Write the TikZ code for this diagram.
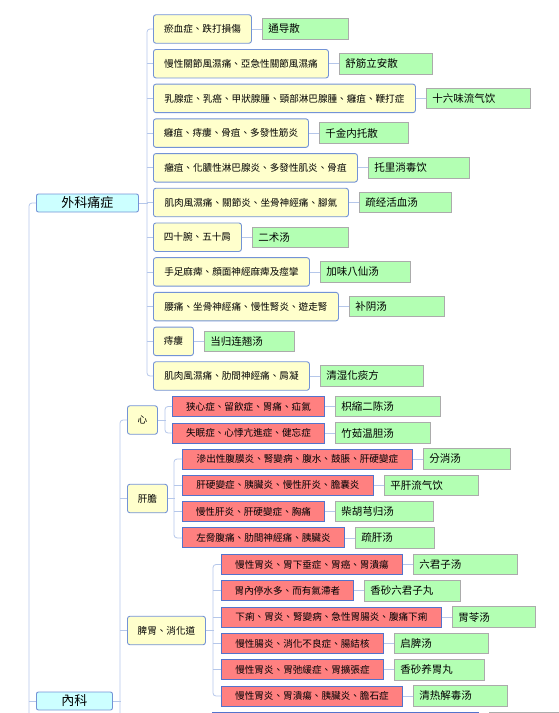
\documentclass[tikz,border=0pt]{standalone}
\usepackage{fontspec}
\setmainfont{Noto Sans CJK TC}
\usetikzlibrary{positioning}

\definecolor{catfill}{HTML}{CCFFFF}
\definecolor{grpfill}{HTML}{FFFFCC}
\definecolor{disfill}{HTML}{FF8080}
\definecolor{rxfill}{HTML}{B3FFB3}
\definecolor{boxline}{HTML}{7393D6}
\definecolor{disline}{HTML}{5473CC}
\definecolor{rxline}{HTML}{ABABAB}
\definecolor{linkcol}{HTML}{B5C7EA}

\begin{document}
\begin{tikzpicture}[x=1pt, y=-1pt,
    cat/.style={draw=boxline, fill=catfill, line width=0.9pt, rounded corners=2pt,
        minimum height=18pt, inner sep=0pt, font=\fontsize{13}{15}\selectfont},
    sym/.style={draw=boxline, fill=grpfill, line width=0.9pt, rounded corners=2.5pt,
        minimum width=#1, minimum height=28.5pt, inner sep=0pt, font=\fontsize{9.6}{11}\selectfont},
    dis/.style={draw=disline, fill=disfill, line width=0.9pt,
        minimum width=#1, minimum height=20pt, inner sep=0pt, font=\fontsize{9.6}{11}\selectfont},
    rx/.style={draw=rxline, fill=rxfill, line width=0.8pt, text width=#1, align=left,
        minimum height=20.5pt, inner xsep=6pt, inner ysep=0pt, font=\fontsize{10.5}{12}\selectfont},
    link/.style={draw=linkcol, line width=0.8pt}]

    \useasboundingbox (0,0) rectangle (559,713);
    \clip (0,0) rectangle (559,713);

    % Top level categories
    \node[cat, minimum width=102pt, anchor=west] (wai) at (36,203) {外科痛症};
    \node[cat, minimum width=76pt, anchor=west] (nei) at (36,701) {內科};
    \draw[link, rounded corners=3pt] (wai.west) -- ++(-7,0) -- ++(0,540);
    \draw[link] (nei.west) -- ++(-7,0);

    % 1. Surgical pain: symptom -> prescription
    \foreach \k/\w/\txt/\tw/\rxt in {
        1/98pt/瘀血症、跌打損傷/74pt/通导散,
        2/175pt/慢性關節風濕痛、亞急性關節風濕痛/81pt/舒筋立安散,
        3/262pt/乳腺症、乳癌、甲狀腺腫、頸部淋巴腺腫、癰疽、鞭打症/92pt/十六味流气饮,
        4/155pt/癰疽、痔瘻、骨疽、多發性筋炎/77pt/千金内托散,
        5/204pt/癰疽、化膿性淋巴腺炎、多發性肌炎、骨疽/89pt/托里消毒饮,
        6/195pt/肌肉風濕痛、關節炎、坐骨神經痛、腳氣/80pt/疏经活血汤,
        7/88pt/四十腕、五十肩/84pt/二术汤,
        8/156pt/手足麻痺、顔面神經麻痺及痙攣/78pt/加味八仙汤,
        9/185pt/腰痛、坐骨神經痛、慢性腎炎、遊走腎/83pt/补阴汤,
        10/40pt/痔瘻/78pt/当归连翘汤,
        11/156pt/肌肉風濕痛、肋間神經痛、肩凝/91pt/清湿化痰方} {
        \node[sym=\w, anchor=west] (s\k) at (153,{29+34.7*(\k-1)}) {\txt};
        \node[rx=\tw, right=10pt of s\k] (f\k) {\rxt};
        \draw[link] (s\k) -- (f\k);
    }
    \draw[link, rounded corners=3pt] (s1.west) -- ++(-6,0) |- (s11.west);
    \foreach \k in {2,...,10} \draw[link] (s\k.west) -- ++(-6,0);
    \draw[link] (wai.east) -- ++(9,0);

    % 2. Internal medicine: organ groups
    \node[sym=30pt, anchor=west] (xin) at (127,420) {心};
    \node[sym=40pt, anchor=west] (gan) at (127,498.5) {肝膽};
    \node[sym=78pt, anchor=west] (pi) at (127,630.5) {脾胃、消化道};
    \draw[link, rounded corners=3pt] (xin.west) -- ++(-7,0) -- ++(0,320);
    \draw[link] (gan.west) -- ++(-7,0);
    \draw[link] (pi.west) -- ++(-7,0);
    \draw[link] (nei.east) -- ++(8,0);

    % Heart
    \foreach \k/\w/\txt/\tw/\rxt in {
        1/152pt/狭心症、留飲症、胃痛、疝氣/93pt/枳縮二陈汤,
        2/152pt/失眠症、心悸亢進症、健忘症/83pt/竹茹温胆汤} {
        \node[dis=\w, anchor=west] (xa\k) at (172,{406.5+26.5*(\k-1)}) {\txt};
        \node[rx=\tw, right=10pt of xa\k] (xf\k) {\rxt};
        \draw[link] (xa\k) -- (xf\k);
    }
    \draw[link, rounded corners=3pt] (xa1.west) -- ++(-7,0) |- (xa2.west);
    \draw[link] (xin.east) -- ++(8,0);

    % Liver and gall bladder
    \foreach \k/\w/\txt/\tw/\rxt in {
        1/230pt/滲出性腹膜炎、腎變病、腹水、鼓脹、肝硬變症/75pt/分消汤,
        2/191pt/肝硬變症、胰臟炎、慢性肝炎、膽囊炎/82pt/平肝流气饮,
        3/142pt/慢性肝炎、肝硬變症、胸痛/86pt/柴胡芎归汤,
        4/162pt/左脅腹痛、肋間神經痛、胰臟炎/67pt/疏肝汤} {
        \node[dis=\w, anchor=west] (ga\k) at (182,{459+26.3*(\k-1)}) {\txt};
        \node[rx=\tw, right=10pt of ga\k] (gf\k) {\rxt};
        \draw[link] (ga\k) -- (gf\k);
    }
    \draw[link, rounded corners=3pt] (ga1.west) -- ++(-8,0) |- (ga4.west);
    \foreach \k in {2,3} \draw[link] (ga\k.west) -- ++(-8,0);
    \draw[link] (gan.east) -- ++(7,0);

    % Spleen, stomach and digestive tract
    \foreach \k/\w/\txt/\tw/\rxt in {
        1/181pt/慢性胃炎、胃下垂症、胃癌、胃潰瘍/92pt/六君子汤,
        2/132pt/胃內停水多、而有氣滯者/84pt/香砂六君子丸,
        3/220pt/下痢、胃炎、腎變病、急性胃腸炎、腹痛下痢/71pt/胃苓汤,
        4/162pt/慢性腸炎、消化不良症、腸結核/82pt/启脾汤,
        5/162pt/慢性胃炎、胃弛緩症、胃擴張症/78pt/香砂养胃丸,
        6/181pt/慢性胃炎、胃潰瘍、胰臟炎、膽石症/82pt/清热解毒汤} {
        \node[dis=\w, anchor=west] (pa\k) at (221,{564.5+26.3*(\k-1)}) {\txt};
        \node[rx=\tw, right=10pt of pa\k] (pf\k) {\rxt};
        \draw[link] (pa\k) -- (pf\k);
    }
    \draw[link, rounded corners=3pt] (pa1.west) -- ++(-8,0) |- (pa6.west);
    \foreach \k in {2,...,5} \draw[link] (pa\k.west) -- ++(-8,0);
    \draw[link] (pi.east) -- ++(8,0);

    % 3. Boxes cut off at the lower edge
    \node[dis=266pt, anchor=north west] (cut1) at (212,712) {};
    \node[rx=68pt, anchor=north west] (cut2) at (489,712) {};

\end{tikzpicture}
\end{document}
